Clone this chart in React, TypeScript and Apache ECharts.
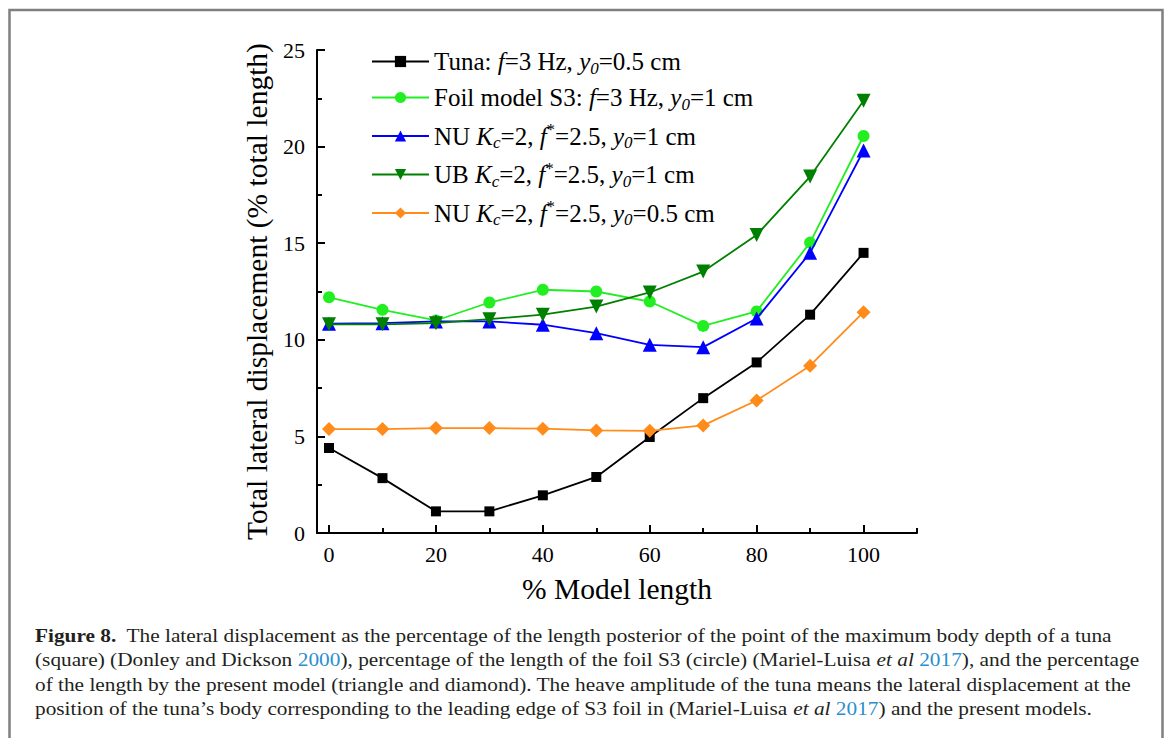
import React, { useEffect, useRef } from 'react';
import * as echarts from 'echarts';

const FONT = '"Liberation Serif", "Times New Roman", serif';

const xValues = [0, 10, 20, 30, 40, 50, 60, 70, 80, 90, 100];
const tuna = [4.4, 2.84, 1.12, 1.12, 1.95, 2.9, 4.97, 6.98, 8.83, 11.3, 14.5];
const foil = [12.2, 11.55, 11.0, 11.93, 12.59, 12.5, 11.98, 10.72, 11.47, 15.03, 20.55];
const nu1 = [10.83, 10.86, 10.95, 10.95, 10.78, 10.34, 9.74, 9.62, 11.1, 14.5, 19.8];
const ub = [10.8, 10.8, 10.86, 11.07, 11.3, 11.72, 12.45, 13.53, 15.43, 18.45, 22.37];
const nu05 = [5.38, 5.38, 5.43, 5.43, 5.4, 5.31, 5.29, 5.57, 6.86, 8.66, 11.43];

const majorXTicks = [0, 20, 40, 60, 80, 100];
const minorXTicks = [10, 30, 50, 70, 90, 110];

const seriesNames = [
  'Tuna: f=3 Hz, y0=0.5 cm',
  'Foil model S3: f=3 Hz, y0=1 cm',
  'NU Kc=2, f*=2.5, y0=1 cm',
  'UB Kc=2, f*=2.5, y0=1 cm',
  'NU Kc=2, f*=2.5, y0=0.5 cm',
];
const legendRich: Record<string, string> = {
  [seriesNames[0]]: '{n|Tuna: }{i|f}{n|=3 Hz, }{i|y}{sub|0}{n|=0.5 cm}',
  [seriesNames[1]]: '{n|Foil model S3: }{i|f}{n|=3 Hz, }{i|y}{sub|0}{n|=1 cm}',
  [seriesNames[2]]: '{n|NU }{i|K}{sub|c}{n|=2, }{i|f}{sup|*}{n|=2.5, }{i|y}{sub|0}{n|=1 cm}',
  [seriesNames[3]]: '{n|UB }{i|K}{sub|c}{n|=2, }{i|f}{sup|*}{n|=2.5, }{i|y}{sub|0}{n|=1 cm}',
  [seriesNames[4]]: '{n|NU }{i|K}{sub|c}{n|=2, }{i|f}{sup|*}{n|=2.5, }{i|y}{sub|0}{n|=0.5 cm}',
};

const captionLines = [
  '{b|Figure 8.}{n|  The lateral displacement as the percentage of the length posterior of the point of the maximum body depth of a tuna}',
  '{n|(square) (Donley and Dickson }{l|2000}{n|), percentage of the length of the foil S3 (circle) (Mariel-Luisa }{i|et al}{n| }{l|2017}{n|), and the percentage}',
  '{n|of the length by the present model (triangle and diamond). The heave amplitude of the tuna means the lateral displacement at the}',
  '{n|position of the tuna\u2019s body corresponding to the leading edge of S3 foil in (Mariel-Luisa }{i|et al}{n| }{l|2017}{n|) and the present models.}',
];

const colors = ['#000000', '#22ee22', '#0000ff', '#008000', '#ff8c1a'];
const symbols = ['rect', 'circle', 'triangle', 'triangle', 'diamond'];
const symbolSizes = [10, 12, 14, 14, 14];
const symbolRotates = [0, 0, 0, 180, 0];
const allData = [tuna, foil, nu1, ub, nu05];

export default function App() {
  const ref = useRef<HTMLDivElement>(null);
  useEffect(() => {
    const chart = echarts.init(ref.current!, null, { renderer: 'svg' });
    const capFont = 19.5;
    const legFont = 25;
    chart.setOption({
      animation: false,
      backgroundColor: '#ffffff',
      grid: { left: 317, top: 50, width: 600, height: 483, containLabel: false },
      xAxis: [
        {
          type: 'value',
          min: -2.25,
          max: 110,
          position: 'bottom',
          axisLine: { show: true, onZero: false, lineStyle: { color: '#000', width: 2 } },
          axisTick: { show: true, inside: true, length: 8, customValues: majorXTicks, lineStyle: { color: '#000', width: 2 } },
          axisLabel: { show: true, customValues: majorXTicks, color: '#000', fontSize: 22, fontFamily: FONT, margin: 10 },
          splitLine: { show: false },
          name: '% Model length',
          nameLocation: 'middle',
          nameGap: 41,
          nameTextStyle: { color: '#000', fontSize: 29.5, fontFamily: FONT, verticalAlign: 'top' },
        },
        {
          type: 'value',
          min: -2.25,
          max: 110,
          position: 'bottom',
          axisLine: { show: false, onZero: false },
          axisTick: { show: true, inside: true, length: 5, customValues: minorXTicks, lineStyle: { color: '#000', width: 2 } },
          axisLabel: { show: false },
          splitLine: { show: false },
        },
      ],
      yAxis: {
        type: 'value',
        min: 0,
        max: 25,
        interval: 5,
        axisLine: { show: true, onZero: false, lineStyle: { color: '#000', width: 2 } },
        axisTick: { show: true, inside: true, length: 8, lineStyle: { color: '#000', width: 2 } },
        minorTick: { show: true, splitNumber: 2, length: 5, lineStyle: { color: '#000', width: 2 } },
        axisLabel: { color: '#000', fontSize: 22, fontFamily: FONT, margin: 12 },
        splitLine: { show: false },
        minorSplitLine: { show: false },
        name: 'Total lateral displacement (% total length)',
        nameLocation: 'middle',
        nameGap: 34,
        nameTextStyle: { color: '#000', fontSize: 29.5, fontFamily: FONT },
      },
      legend: {
        orient: 'vertical',
        left: 366,
        top: 44,
        itemWidth: 57,
        itemHeight: 14,
        itemGap: 8.5,
        formatter: (name: string) => legendRich[name] || name,
        textStyle: {
          color: '#000',
          fontSize: legFont,
          fontFamily: FONT,
          rich: {
            n: { fontSize: legFont, fontFamily: FONT, color: '#000' },
            i: { fontSize: legFont, fontFamily: FONT, fontStyle: 'italic', color: '#000' },
            sub: { fontSize: 17, fontFamily: FONT, fontStyle: 'italic', color: '#000', verticalAlign: 'bottom', padding: [13, 0, 0, 0] },
            sup: { fontSize: 17, fontFamily: FONT, color: '#000', verticalAlign: 'top', padding: [0, 0, 13, 0] },
          },
        },
        data: seriesNames,
      },
      series: seriesNames.map((name, k) => ({
        name,
        type: 'line',
        xAxisIndex: 0,
        data: xValues.map((x, i) => [x, allData[k][i]]),
        symbol: symbols[k],
        symbolSize: symbolSizes[k],
        symbolRotate: symbolRotates[k],
        showAllSymbol: true,
        lineStyle: { color: colors[k], width: 1.8 },
        itemStyle: { color: colors[k] },
        z: 2 + k,
      })),
      graphic: [
        {
          type: 'polyline',
          silent: true,
          shape: { points: [[9.5, 745], [9.5, 10], [1162.5, 10], [1162.5, 745]] },
          style: { stroke: '#808080', lineWidth: 2.5, fill: 'none' },
        },
        ...captionLines.map((t, i) => ({
          type: 'text',
          silent: true,
          x: 35,
          y: 635 + i * 24.5,
          scaleX: 1.093,
          style: {
            text: t,
            verticalAlign: 'middle',
            fontFamily: FONT,
            fontSize: capFont,
            fill: '#231f20',
            rich: {
              n: { fontFamily: FONT, fontSize: capFont, fill: '#231f20' },
              b: { fontFamily: FONT, fontSize: capFont, fontWeight: 'bold', fill: '#231f20' },
              i: { fontFamily: FONT, fontSize: capFont, fontStyle: 'italic', fill: '#231f20' },
              l: { fontFamily: FONT, fontSize: capFont, fill: '#2a8fd0' },
            },
          },
        })),
      ],
    });
    return () => chart.dispose();
  }, []);
  return (
    <div
      ref={ref}
      style={{ position: 'absolute', left: 0, top: 0, width: 1165, height: 738, background: '#fff' }}
    />
  );
}
